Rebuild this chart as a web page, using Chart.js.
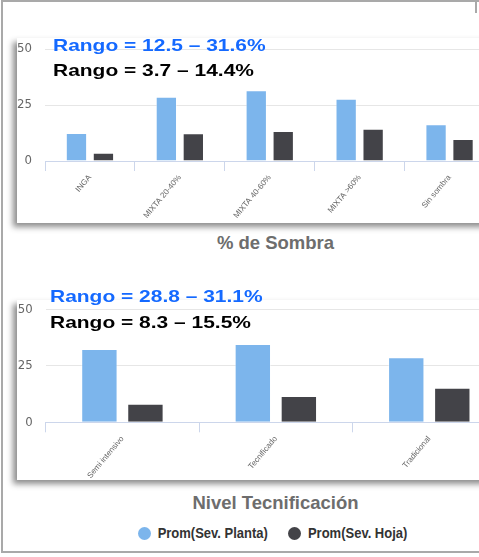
<!DOCTYPE html>
<html lang="es">
<head>
<meta charset="utf-8">
<script src="https://cdn.jsdelivr.net/npm/chart.js@4.4.1/dist/chart.umd.min.js"></script>
<style>
    html, body { margin: 0; padding: 0; background: #fff; }
    body { width: 479px; height: 557px; position: relative; overflow: hidden; font-family: 'Liberation Sans', Arial, sans-serif; }
    .frame { position: absolute; left: 1px; top: 0; width: 600px; height: 553px; box-sizing: border-box;
             border-left: 2px solid #a9a9a9; border-top: 2px solid #a9a9a9; border-bottom: 2px solid #a9a9a9; }
    .tick-r { position: absolute; left: 475px; top: 0; width: 2px; height: 13px; background: #a9a9a9; }
    .panel { position: absolute; left: 17px; width: 540px; background: #fff; box-shadow: -4px 4px 6px rgba(0,0,0,.45); }
    .panel .box { position: relative; width: 540px; height: 100%; }
    .rango { position: absolute; font: bold 16.5px/16.5px 'Liberation Sans', Arial, sans-serif; white-space: nowrap;
             transform-origin: left top; transform: scaleX(1.27); z-index: 5; }
    .azul { color: #1469ff; }
    .negro { color: #000; }
    .titulo { position: absolute; left: 0; width: 551px; text-align: center; color: #6d6d6d;
              font: bold 18.5px/18.5px 'Liberation Sans', Arial, sans-serif; }
    .leyenda { position: absolute; left: 0; top: 524px; width: 545px; display: flex; justify-content: center; align-items: center; }
    .leyenda .item { display: flex; align-items: center; margin: 0 10px; }
    .leyenda .dot { width: 13px; height: 13px; border-radius: 50%; margin-right: 7px; }
    .leyenda .txt { font: bold 13px/18px 'Liberation Sans', Arial, sans-serif; color: #333; transform: scaleY(1.15); }
</style>
</head>
<body>
<div class="frame"></div>
<div class="tick-r"></div>

<div class="panel" style="top:38px;height:185px"><div class="box"><canvas id="chartSombra"></canvas></div></div>
<div class="rango azul" id="r1a" style="left:53px;top:37px"></div>
<div class="rango negro" id="r1b" style="left:53px;top:62px"></div>
<div class="titulo" id="t1" style="top:234px"></div>

<div class="panel" style="top:300px;height:180px"><div class="box"><canvas id="chartTecn"></canvas></div></div>
<div class="rango azul" id="r2a" style="left:50px;top:288px"></div>
<div class="rango negro" id="r2b" style="left:50px;top:314px"></div>
<div class="titulo" id="t2" style="top:494px"></div>

<div class="leyenda" id="leyenda"></div>

<script>
// series
const SERIES = ['Prom(Sev. Planta)', 'Prom(Sev. Hoja)'];
const COLORES = ['#7cb5ec', '#434348'];

// % de sombra
const catSombra = ['INGA', 'MIXTA 20-40%', 'MIXTA 40-60%', 'MIXTA >60%', 'Sin sombra'];
const plantaSombra = [12.5, 28.7, 31.6, 27.8, 16.4];
const hojaSombra = [3.7, 12.4, 13.4, 14.4, 9.8];
const rangoSombra = ['Rango = 12.5 – 31.6%', 'Rango = 3.7 – 14.4%'];
const tituloSombra = '% de Sombra';

// nivel de tecnificacion
const catTecn = ['Semi intensivo', 'Tecnificado', 'Tradicional'];
const plantaTecn = [32.4, 34.6, 28.8];
const hojaTecn = [8.2, 11.6, 15.3];
const rangoTecn = ['Rango = 28.8 – 31.1%', 'Rango = 8.3 – 15.5%'];
const tituloTecn = 'Nivel Tecnificación';

const Y_TICKS = [0, 25, 50];

const NARROW = "'Liberation Sans Narrow', 'DejaVu Sans Condensed', 'Liberation Sans', sans-serif";
const SANS = "'Liberation Sans', Arial, sans-serif";

function makeChart(id, labels, planta, hoja, lay) {
    return new Chart(document.getElementById(id), {
        type: 'bar',
        data: {
            labels,
            datasets: [planta, hoja].map((d, i) => ({
                label: SERIES[i],
                data: d,
                backgroundColor: COLORES[i],
                borderColor: 'rgba(255,255,255,0.45)',
                borderWidth: 1,
                categoryPercentage: 0.6,
                barPercentage: 0.79,
            }))
        },
        options: {
            responsive: true,
            maintainAspectRatio: false,
            animation: false,
            layout: { padding: { top: lay.top, right: lay.right, left: 0, bottom: 0 } },
            plugins: { legend: { display: false }, tooltip: { enabled: false } },
            scales: {
                x: {
                    offset: true,
                    grid: { offset: true, drawOnChartArea: false, drawTicks: true, tickLength: 10, color: '#ccd6eb' },
                    border: { color: '#ccd6eb' },
                    ticks: { autoSkip: false, minRotation: 50, maxRotation: 50, padding: 2, color: '#666',
                             font: { size: 8, family: SANS } },
                    afterFit: s => { s.height = lay.xh; s.paddingLeft = 0; s.paddingRight = 0; }
                },
                y: {
                    min: Y_TICKS[0],
                    max: Y_TICKS[Y_TICKS.length - 1],
                    afterBuildTicks: s => { s.ticks = Y_TICKS.map(v => ({ value: v })); },
                    grid: { color: '#e6e6e6', drawTicks: false },
                    border: { display: false },
                    ticks: { padding: 13, color: '#666', font: { size: 13, family: NARROW } },
                    // la etiqueta de arriba no debe empujar el area del grafico
                    afterFit: s => { s.width = lay.yw; s.paddingTop = 0; s.paddingBottom = 0; }
                }
            }
        }
    });
}

makeChart('chartSombra', catSombra, plantaSombra, hojaSombra, { top: 11, right: 62.5, xh: 62, yw: 28 });
makeChart('chartTecn', catTecn, plantaTecn, hojaTecn, { top: 9.3, right: 51, xh: 57.7, yw: 28.7 });

document.getElementById('r1a').textContent = rangoSombra[0];
document.getElementById('r1b').textContent = rangoSombra[1];
document.getElementById('r2a').textContent = rangoTecn[0];
document.getElementById('r2b').textContent = rangoTecn[1];
document.getElementById('t1').textContent = tituloSombra;
document.getElementById('t2').textContent = tituloTecn;

const leyenda = document.getElementById('leyenda');
SERIES.forEach((s, i) => {
    const item = document.createElement('div');
    item.className = 'item';
    item.innerHTML = `<span class="dot" style="background:${COLORES[i]}"></span><span class="txt"></span>`;
    item.querySelector('.txt').textContent = s;
    leyenda.appendChild(item);
});
</script>
</body>
</html>
